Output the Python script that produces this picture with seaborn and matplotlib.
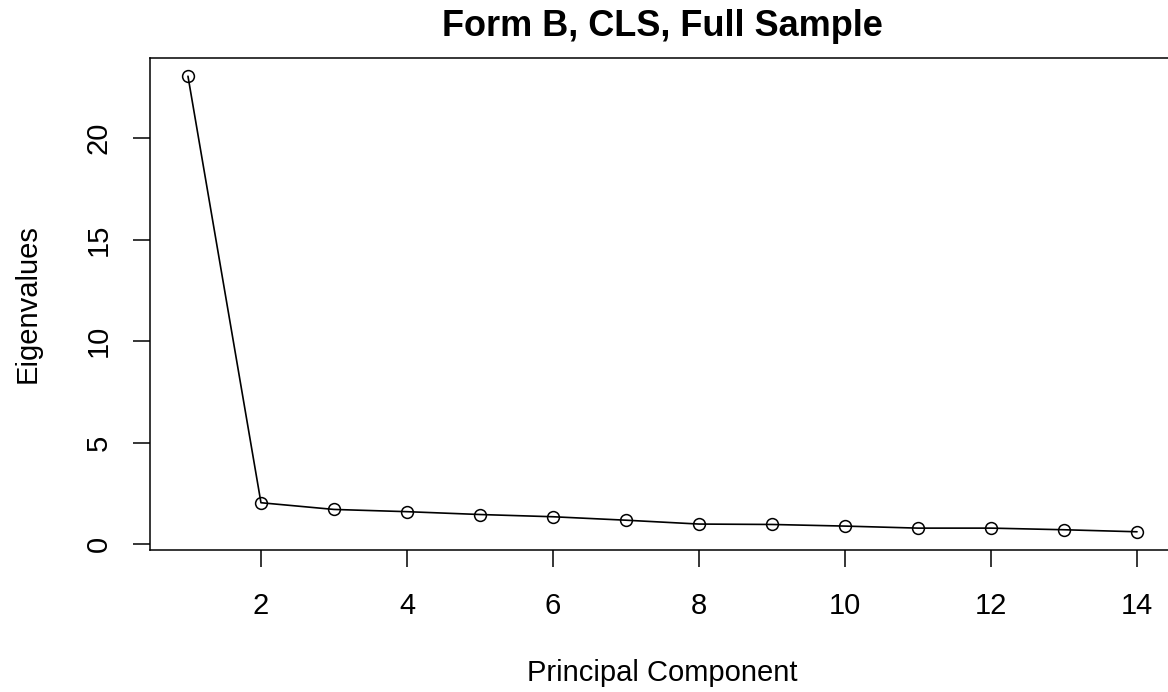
import matplotlib
matplotlib.use("Agg")
import matplotlib.pyplot as plt
import seaborn as sns
import pandas as pd

components = [1, 2, 3, 4, 5, 6, 7, 8, 9, 10, 11, 12, 13, 14]
eigenvalues = [23.05, 2.05, 1.72, 1.61, 1.47, 1.36, 1.19, 1.00, 0.98, 0.90, 0.80, 0.80, 0.72, 0.62]
x_ticks = [2, 4, 6, 8, 10, 12, 14]
y_ticks = [0, 5, 10, 15, 20]

sns.set_style("white")
plt.rcParams['font.family'] = ['Liberation Sans', 'DejaVu Sans']
plt.rcParams['text.color'] = 'black'
plt.rcParams['axes.labelcolor'] = 'black'

df = pd.DataFrame({"Principal Component": components, "Eigenvalues": eigenvalues})

W, H = 1168, 692
fig = plt.figure(figsize=(W / 100, H / 100), dpi=100)
ax = fig.add_axes([150 / W, (H - 550) / H, (1175 - 150) / W, (550 - 58) / H])

sns.lineplot(data=df, x="Principal Component", y="Eigenvalues", ax=ax,
             color="black", linewidth=1.2, marker="o", markersize=8.5,
             markerfacecolor="none", markeredgecolor="black", markeredgewidth=1.1)

xr = max(components) - min(components)
ax.set_xlim(min(components) - 0.04 * xr, max(components) + 0.04 * xr)
yr = max(eigenvalues) - min(eigenvalues)
ax.set_ylim(min(eigenvalues) - 0.04 * yr, max(eigenvalues) + 0.04 * yr)

ax.set_xticks(x_ticks)
ax.set_yticks(y_ticks)
ax.set_yticklabels([str(v) for v in y_ticks], rotation=90, va="center")
ax.tick_params(axis="both", direction="out", length=12, width=1.1, color="black",
               labelsize=21, labelcolor="black", bottom=True, left=True)
ax.tick_params(axis="x", pad=18)
ax.tick_params(axis="y", pad=15)

for s in ax.spines.values():
    s.set_visible(True)
    s.set_color("black")
    s.set_linewidth(1.1)

ax.set_xlabel("Principal Component", fontsize=21, labelpad=28, color="black")
ax.set_ylabel("Eigenvalues", fontsize=21, labelpad=31, color="black")
ax.set_title("Form B, CLS, Full Sample", fontsize=26, fontweight="bold", pad=16, color="black")

fig.savefig("out.png", dpi=100)
